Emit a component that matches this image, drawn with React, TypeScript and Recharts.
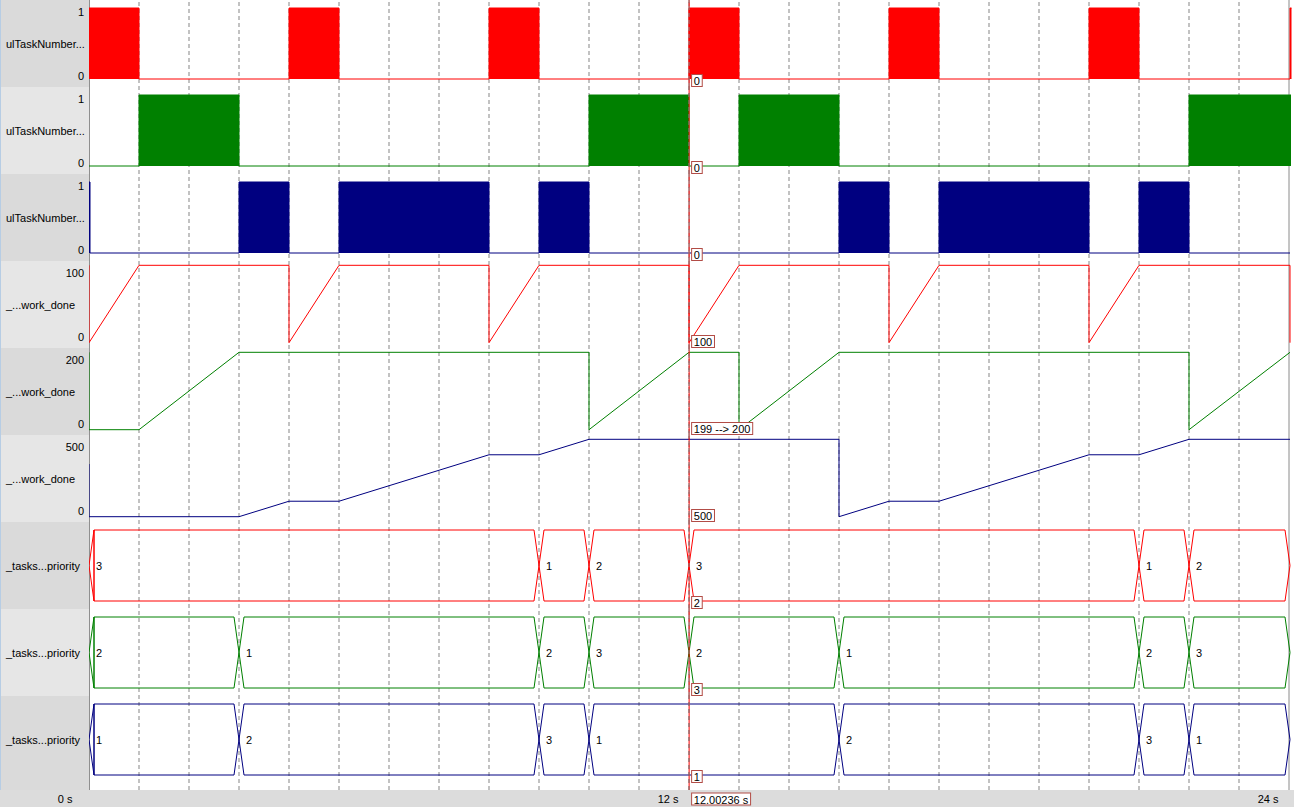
import React from 'react';
import { ComposedChart, Area, Line, Scatter, XAxis, YAxis, ReferenceLine } from 'recharts';

const FONT = '"Liberation Sans", Arial, Helvetica, sans-serif';
const W = 1294;
const PANEL_W = 89;
const ROW_H = 87;
const AXIS_H = 17;
const LAST_PLOT_H = 94;
const PLOTS_H = ROW_H * 8 + LAST_PLOT_H;

const RED = '#ff0000';
const GREEN = '#008000';
const NAVY = '#000080';

type Pt = [number, number];

// ---- data (time in seconds, value) ----
const taskRunning1: Pt[] = [[0, 1], [1, 0], [4, 1], [5, 0], [8, 1], [9, 0], [12, 1], [13, 0], [16, 1], [17, 0], [20, 1], [21, 0], [24.02, 1], [24.05, 1]];
const taskRunning2: Pt[] = [[0, 0], [1, 1], [3, 0], [10, 1], [12, 0], [13, 1], [15, 0], [22, 1], [24.04, 1]];
const taskRunning3: Pt[] = [[0, 1], [0.02, 0], [3, 1], [4, 0], [5, 1], [8, 0], [9, 1], [10, 0], [15, 1], [16, 0], [17, 1], [20, 0], [21, 1], [22, 0], [24.02, 0]];

const workDone1: Pt[] = [[0, 100], [0, 0], [1, 100], [4, 100], [4, 0], [5, 100], [8, 100], [8, 0], [9, 100], [12, 100], [12, 0], [13, 100], [16, 100], [16, 0], [17, 100], [20, 100], [20, 0], [21, 100], [24.02, 100], [24.02, 0]];
const workDone2: Pt[] = [[0, 200], [0, 0], [1, 0], [3, 200], [10, 200], [10, 0], [12, 200], [13, 200], [13, 0], [15, 200], [22, 200], [22, 0], [24.02, 200]];
const workDone3: Pt[] = [[0, 340], [0, 0], [3, 0], [4, 100], [5, 100], [8, 400], [9, 400], [10, 500], [15, 500], [15, 0], [16, 100], [17, 100], [20, 400], [21, 400], [22, 500], [24.02, 500]];

// priority segments: [start time, value]
const priority1: Pt[] = [[0, 3], [9, 1], [10, 2], [12, 3], [21, 1], [22, 2]];
const priority2: Pt[] = [[0, 2], [3, 1], [9, 2], [10, 3], [12, 2], [15, 1], [21, 2], [22, 3]];
const priority3: Pt[] = [[0, 1], [3, 2], [9, 3], [10, 1], [15, 2], [21, 3], [22, 1]];
const PRIORITY_END = 24.02;

const rowNames = [
  'ulTaskNumber...', 'ulTaskNumber...', 'ulTaskNumber...',
  '_...work_done', '_...work_done', '_...work_done',
  '_tasks...priority', '_tasks...priority', '_tasks...priority',
];
const digitalTicks = [0, 1];
const workTicks1 = [0, 100];
const workTicks2 = [0, 200];
const workTicks3 = [0, 500];

const gridSeconds = [1, 2, 3, 4, 5, 6, 7, 8, 9, 10, 11, 12, 13, 14, 15, 16, 17, 18, 19, 20, 21, 22, 23];
const timeTicks = [0, 12, 24];
const timeTickLabels = ['0 s', '12 s', '24 s'];
const TRACE_MARK = 24;
const X_DOMAIN: [number, number] = [0, 24.1];

const cursorTime = 12.00236;
const cursorTimeLabel = '12.00236 s';
const cursorValues = ['0', '0', '0', '100', '199 --> 200', '500', '2', '3', '1'];

// ---- helpers ----
const padDomain = (lo: number, hi: number, topPx: number, botPx: number, plotH: number): [number, number] => {
  const k = (hi - lo) / (plotH - topPx - botPx);
  return [lo - botPx * k, hi + topPx * k];
};

const toRows = (pts: Pt[]) => pts.map(([t, v]) => ({ t, v }));

const BUS_HALF = 0.1;
const busPoints = (segs: Pt[], end: number) => {
  const pts: { t: number; a: number }[] = [];
  const t0 = segs[0][0];
  pts.push({ t: t0, a: 0.5 });
  pts.push({ t: t0 + BUS_HALF, a: 1 });
  pts.push({ t: t0 + BUS_HALF, a: 0 });
  let cur = 0;
  for (let i = 1; i < segs.length; i++) {
    const s = segs[i][0];
    pts.push({ t: s - BUS_HALF, a: cur });
    cur = 1 - cur;
    pts.push({ t: s + BUS_HALF, a: cur });
  }
  pts.push({ t: end - BUS_HALF, a: cur });
  pts.push({ t: end, a: 0.5 });
  return pts.map((p) => ({ ...p, b: 1 - p.a }));
};
const busLabels = (segs: Pt[]) => segs.map(([t, v]) => ({ t, y: 0.5, label: String(v) }));

const CHAR_W: Record<string, number> = { ' ': 3.06, '-': 3.66, '>': 6.42, '.': 3.06, s: 5.5 };
const textWidth = (s: string) => s.split('').reduce((acc, c) => acc + (CHAR_W[c] ?? 6.12), 0);

const ValueBox = ({ x, y, text }: { x: number; y: number; text: string }) => {
  const w = textWidth(text) + 4.5;
  return (
    <g>
      <rect x={x + 2.5} y={y + 0.5} width={w} height={12} fill="#ffffff" stroke="#b24c46" strokeWidth={1} />
      <text x={x + 4.7} y={y + 7} dominantBaseline="central" fontSize={11} fontFamily={FONT} fill="#000">
        {text}
      </text>
    </g>
  );
};

const cursorLabel = (text: string, timeText?: string, plotH?: number) => (p: any) => {
  const vb = p && p.viewBox ? p.viewBox : p;
  const x = vb.x;
  const y0 = vb.y ?? 0;
  return (
    <g>
      <ValueBox x={x} y={y0 + 74} text={text} />
      {timeText ? <ValueBox x={x} y={y0 + (plotH ?? 0) + 2.5} text={timeText} /> : null}
    </g>
  );
};

const YTick = (p: any) => {
  const y = Math.min(Math.max(p.y, 12), 76);
  return (
    <text x={p.x} y={y} textAnchor="end" dominantBaseline="central" fontSize={11} fontFamily={FONT} fill="#000">
      {p.payload.value}
    </text>
  );
};

const XTick = (p: any) => {
  const v = p.payload.value;
  const idx = timeTicks.indexOf(v);
  const dx = v === 0 ? -16.5 : -10.5;
  return (
    <text x={p.x + dx} y={p.y + 8.5} textAnchor="end" dominantBaseline="central" fontSize={11} fontFamily={FONT} fill="#000">
      {timeTickLabels[idx]}
    </text>
  );
};

const BusLabel = (p: any) => {
  if (p.cx == null) return <g />;
  return (
    <text x={p.cx + 7} y={p.cy} dominantBaseline="central" fontSize={11} fontFamily={FONT} fill="#000">
      {p.payload.label}
    </text>
  );
};

const rowTop = (i: number) => i * ROW_H;
const panelShade = (i: number) => (i % 2 === 0 ? '#dadada' : '#e6e6e6');
const panelBg = (i: number) =>
  `linear-gradient(to right, #b7cde4 0px, #b7cde4 1px, ${panelShade(i)} 1px, ${panelShade(i)} 89px, #8f8f8f 89px, #8f8f8f 90px, #ffffff 90px)`;

// background of one row: panel shade and signal name
const RowBackground = ({ i }: { i: number }) => {
  const isLast = i === 8;
  const plotH = isLast ? LAST_PLOT_H : ROW_H;
  return (
    <div style={{ position: 'absolute', left: 0, top: rowTop(i), width: W, height: plotH, background: panelBg(i) }}>
      <div
        style={{
          position: 'absolute', left: 6, top: 0, height: plotH - (isLast ? 6 : 0), display: 'flex', alignItems: 'center',
          fontFamily: FONT, fontSize: 11, color: '#000', whiteSpace: 'nowrap',
        }}
      >
        {rowNames[i]}
      </div>
    </div>
  );
};

// time grid drawn once behind every row
const GridLayer = () => (
  <div style={{ position: 'absolute', left: 0, top: 0 }}>
    <ComposedChart width={W} height={PLOTS_H} data={[{ t: 0, v: 0 }]} margin={{ top: 0, right: 0, bottom: 0, left: 0 }}>
      <XAxis type="number" dataKey="t" domain={X_DOMAIN} allowDataOverflow hide />
      <YAxis type="number" width={PANEL_W} domain={[0, 1]} allowDataOverflow tick={false} axisLine={false} tickLine={false} />
      {gridSeconds.map((s) => (
        <ReferenceLine key={s} x={s} stroke="#858585" strokeDasharray="4 3" />
      ))}
      <ReferenceLine x={TRACE_MARK} stroke="#8a8a8a" />
    </ComposedChart>
  </div>
);

type RowProps = {
  i: number;
  data: any[];
  domain: [number, number];
  yTicks?: number[];
  isLast?: boolean;
  children: React.ReactNode;
};

const Row = ({ i, data, domain, yTicks, isLast, children }: RowProps) => {
  const plotH = isLast ? LAST_PLOT_H : ROW_H;
  const chartH = isLast ? LAST_PLOT_H + AXIS_H : ROW_H;
  return (
    <div style={{ position: 'absolute', left: 0, top: rowTop(i), width: W, height: chartH }}>
      <ComposedChart width={W} height={chartH} data={data} margin={{ top: 0, right: 0, bottom: 0, left: 0 }}>
        {isLast ? (
          <XAxis
            type="number" dataKey="t" domain={X_DOMAIN} allowDataOverflow ticks={timeTicks} interval={0}
            tick={<XTick />} axisLine={false} tickLine={false} tickSize={0} tickMargin={0} height={AXIS_H}
          />
        ) : (
          <XAxis type="number" dataKey="t" domain={X_DOMAIN} allowDataOverflow hide />
        )}
        <YAxis
          type="number" width={PANEL_W} domain={domain} allowDataOverflow
          ticks={yTicks} interval={0} tick={yTicks ? <YTick /> : false}
          axisLine={false} tickLine={false} tickSize={0} tickMargin={5}
        />
        {children}
        <ReferenceLine
          x={cursorTime} stroke={RED}
          label={cursorLabel(cursorValues[i], isLast ? cursorTimeLabel : undefined, plotH)}
        />
        <ReferenceLine x={12} stroke="#858585" strokeDasharray="4 3" />
      </ComposedChart>
    </div>
  );
};

const DIGITAL_DOMAIN = padDomain(0, 1, 8, 8, ROW_H);
const BUS_DOMAIN = padDomain(0, 1, 8, 8, ROW_H);
const BUS_DOMAIN_LAST = padDomain(0, 1, 8, 15, LAST_PLOT_H);
const workDomain = (max: number) => padDomain(0, max, 4.3, 5.3, ROW_H);

const digitalRow = (i: number, pts: Pt[], color: string) => (
  <Row key={i} i={i} data={toRows(pts)} domain={DIGITAL_DOMAIN} yTicks={digitalTicks}>
    <Area
      type="stepAfter" dataKey="v" stroke={color} strokeWidth={1} fill={color} fillOpacity={1}
      baseValue={0} dot={false} activeDot={false} isAnimationActive={false}
    />
  </Row>
);

const workRow = (i: number, pts: Pt[], ticks: number[], color: string) => (
  <Row key={i} i={i} data={toRows(pts)} domain={workDomain(ticks[1])} yTicks={ticks}>
    <Line type="linear" dataKey="v" stroke={color} strokeWidth={1} dot={false} activeDot={false} isAnimationActive={false} />
  </Row>
);

const busRow = (i: number, segs: Pt[], color: string, isLast?: boolean) => (
  <Row key={i} i={i} data={busPoints(segs, PRIORITY_END)} domain={isLast ? BUS_DOMAIN_LAST : BUS_DOMAIN} isLast={isLast}>
    <Line type="linear" dataKey="a" stroke={color} strokeWidth={1} dot={false} activeDot={false} isAnimationActive={false} />
    <Line type="linear" dataKey="b" stroke={color} strokeWidth={1} dot={false} activeDot={false} isAnimationActive={false} />
    <Scatter data={busLabels(segs)} dataKey="y" shape={<BusLabel />} isAnimationActive={false} />
  </Row>
);

const rowIndices = [0, 1, 2, 3, 4, 5, 6, 7, 8];

export default function App() {
  return (
    <div style={{ position: 'absolute', left: 0, top: 0, width: W, height: 807, background: '#ffffff', overflow: 'hidden' }}>
      <div style={{ position: 'absolute', left: 0, top: PLOTS_H, width: W, height: 17, background: '#dcdcdc' }} />
      {rowIndices.map((i) => (
        <RowBackground key={`bg${i}`} i={i} />
      ))}
      <GridLayer />
      {digitalRow(0, taskRunning1, RED)}
      {digitalRow(1, taskRunning2, GREEN)}
      {digitalRow(2, taskRunning3, NAVY)}
      {workRow(3, workDone1, workTicks1, RED)}
      {workRow(4, workDone2, workTicks2, GREEN)}
      {workRow(5, workDone3, workTicks3, NAVY)}
      {busRow(6, priority1, RED)}
      {busRow(7, priority2, GREEN)}
      {busRow(8, priority3, NAVY, true)}
    </div>
  );
}
